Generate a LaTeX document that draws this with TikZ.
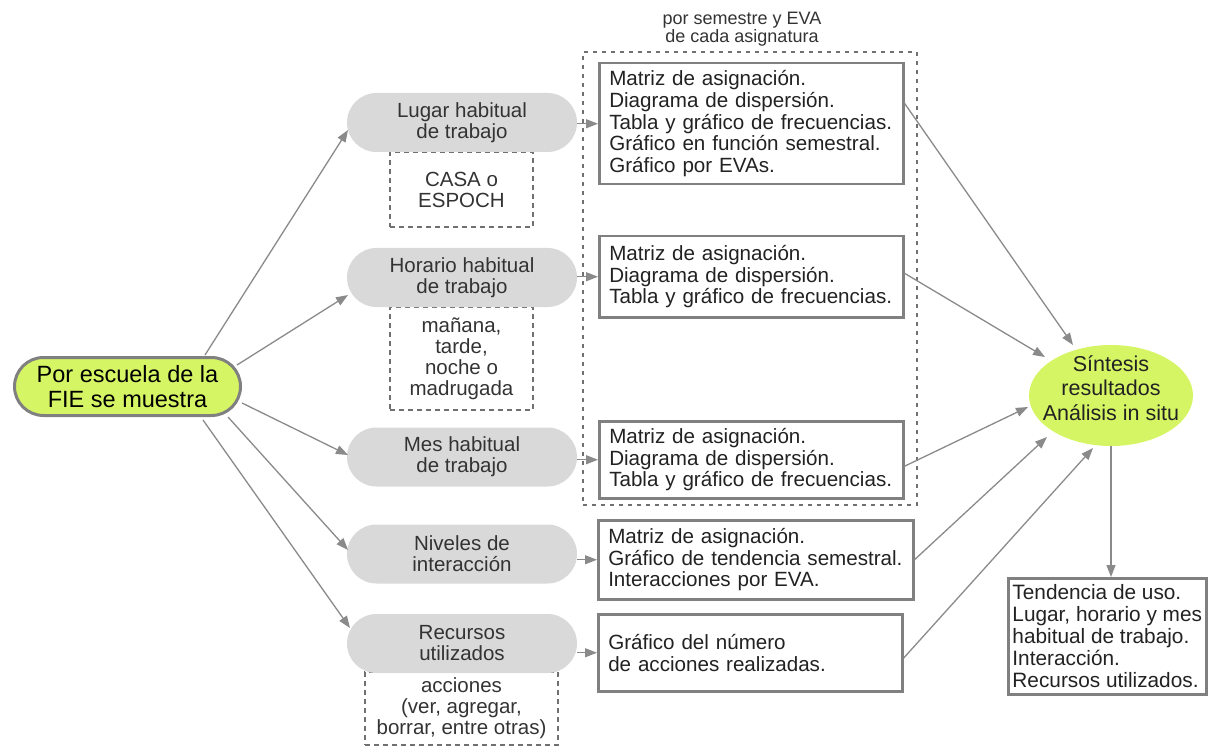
\documentclass[tikz,border=0pt]{standalone}
\usepackage{fontspec}
\setmainfont{Liberation Sans}
\usetikzlibrary{arrows.meta,shapes.geometric}

\definecolor{lime}{HTML}{D6F564}
\definecolor{pillgray}{HTML}{D9D9D9}
\definecolor{connector}{HTML}{8A8A8A}
\definecolor{boxline}{HTML}{808080}
\definecolor{dashline}{HTML}{707070}
\definecolor{ink}{HTML}{222222}
\definecolor{softink}{HTML}{333333}

\tikzset{
  conn/.style={draw=connector, line width=1.3pt,
    -{Triangle[length=12pt,width=9pt]}},
  rootnode/.style={fill=lime, draw=boxline, line width=3pt,
    rounded corners=29pt, minimum width=226pt, minimum height=58pt,
    inner sep=0pt, align=center, text=black,
    font=\fontsize{23.5}{25}\selectfont},
  pill/.style={fill=pillgray, rounded corners=29.5pt,
    minimum width=230pt, minimum height=59pt, inner sep=0pt,
    align=center, text=softink, font=\fontsize{20.5}{21}\selectfont},
  notebox/.style={draw=dashline, line width=2pt, dash pattern=on 5pt off 4pt,
    inner sep=0pt, align=center, text=softink,
    font=\fontsize{20.5}{21}\selectfont},
  groupframe/.style={draw=dashline, line width=2pt,
    dash pattern=on 4pt off 5pt, inner sep=0pt},
  grouplabel/.style={align=center, text=softink,
    font=\fontsize{18}{18.5}\selectfont},
  listbox/.style={draw=boxline, line width=2.5pt, fill=white,
    anchor=north west, inner xsep=10pt, inner ysep=0pt, align=left,
    text=ink, font=\fontsize{20.6}{21.8}\selectfont},
  synthesis/.style={ellipse, fill=lime, minimum width=164pt,
    minimum height=101pt, inner sep=0pt},
  synthtext/.style={align=center, text=ink,
    font=\fontsize{21.5}{24.5}\selectfont},
  resultbox/.style={draw=boxline, line width=2.5pt, anchor=north west,
    inner xsep=4pt, inner ysep=0pt, align=left, text=ink,
    font=\fontsize{20.8}{22}\selectfont},
}

\begin{document}
\begin{tikzpicture}[x=1pt,y=-1pt]
\useasboundingbox (0,0) rectangle (1208,754);

% frame grouping the per-semester analyses
\node[groupframe, minimum width=334pt, minimum height=453pt] (grp) at (750,278.5) {};
\node[grouplabel] (grplbl) at (742,29) {por semestre y EVA\\de cada asignatura};

% notes hanging below the criteria
\node[notebox, minimum width=143pt, minimum height=75pt] (casa) at (461.5,189.5) {CASA o\\ESPOCH};
\node[notebox, minimum width=143pt, minimum height=103pt] (turno) at (461.5,358.5) {mañana,\\tarde,\\noche o\\madrugada};
\node[notebox, minimum width=193pt, minimum height=73pt] (acc) at (461.5,708.5) {acciones\\(ver, agregar,\\borrar, entre otras)};

% root
\node[rootnode] (root) at (127.5,386.5) {Por escuela de la\\FIE se muestra};

% criteria
\node[pill] (lugar)    at (462,122.5) {Lugar habitual\\de trabajo};
\node[pill] (horario)  at (462,277.5) {Horario habitual\\de trabajo};
\node[pill] (mes)      at (462,457)   {Mes habitual\\de trabajo};
\node[pill] (niveles)  at (462,554)   {Niveles de\\interacción};
\node[pill] (recursos) at (462,643.5) {Recursos\\utilizados};

% outputs per criterion
\node[listbox, text width=284pt, minimum height=121pt] (b1) at (598,62)
  {Matriz de asignación.\\Diagrama de dispersión.\\Tabla y gráfico de frecuencias.\\Gráfico en función semestral.\\Gráfico por EVAs.};
\node[listbox, text width=284pt, minimum height=81pt] (b2) at (598,235)
  {Matriz de asignación.\\Diagrama de dispersión.\\Tabla y gráfico de frecuencias.};
\node[listbox, text width=284pt, minimum height=77pt] (b3) at (598,420)
  {Matriz de asignación.\\Diagrama de dispersión.\\Tabla y gráfico de frecuencias.};
\node[listbox, text width=295pt, minimum height=79pt] (b4) at (597,519)
  {Matriz de asignación.\\Gráfico de tendencia semestral.\\Interacciones por EVA.};
\node[listbox, text width=284pt, minimum height=77pt] (b5) at (597,613)
  {Gráfico del número\\de acciones realizadas.};

% synthesis
\node[synthesis] (syn) at (1111,395.5) {};
\node[synthtext] (syntxt) at (1111,388) {Síntesis\\resultados\\Análisis in situ};

% final summary
\node[resultbox, minimum width=198pt, minimum height=116pt] (res) at (1007,577)
  {Tendencia de uso.\\Lugar, horario y mes\\habitual de trabajo.\\Interacción.\\Recursos utilizados.};

% root to criteria
\draw[conn] ([shift={(77.5,-31.5)}]root.center) -- ([shift={(-114,7.5)}]lugar.center);
\draw[conn] ([shift={(109.5,-21.5)}]root.center) -- ([shift={(-114,17.5)}]horario.center);
\draw[conn] ([shift={(114.5,16.5)}]root.center) -- ([shift={(-114,-2)}]mes.center);
\draw[conn] ([shift={(100.5,30.5)}]root.center) -- ([shift={(-114,-4)}]niveles.center);
\draw[conn] ([shift={(75.5,33.5)}]root.center) -- ([shift={(-112,-15.5)}]recursos.center);

% criteria to outputs
\draw[conn] (lugar.east |- b1.west) -- (b1.west);
\draw[conn] (horario.east |- b2.west) -- (b2.west);
\draw[conn] (mes.east |- b3.west) -- (b3.west);
\draw[conn] (niveles.east |- b4.west) -- (b4.west);
\draw[conn] (recursos.east |- b5.west) -- (b5.west);

% outputs to synthesis
\draw[conn] ([shift={(0,-20.5)}]b1.east) -- ([shift={(-38,-50.5)}]syn.center);
\draw[conn] ([shift={(0,-3.5)}]b2.east) -- ([shift={(-66,-38.5)}]syn.center);
\draw[conn] ([shift={(0,6.5)}]b3.east) -- ([shift={(-83,11.5)}]syn.center);
\draw[conn] (b4.east) -- ([shift={(-64,41.5)}]syn.center);
\draw[conn] ([shift={(0,5.5)}]b5.east) -- ([shift={(-18,52.5)}]syn.center);

% synthesis to summary
\draw[conn] (syn.south) -- (syn.south |- res.north);
\end{tikzpicture}
\end{document}
